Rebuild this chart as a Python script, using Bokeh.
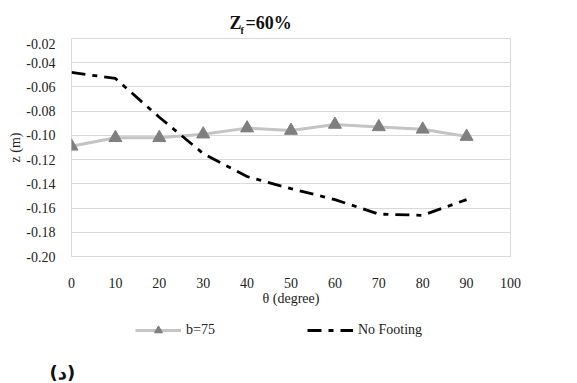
from bokeh.plotting import figure
from bokeh.layouts import column
from bokeh.models import (FixedTicker, NumeralTickFormatter, Label, Legend, LegendItem,
                          Range1d)
from bokeh.embed import file_html
from bokeh.resources import INLINE

# data
theta = [0, 10, 20, 30, 40, 50, 60, 70, 80, 90]
b75 = [-0.109, -0.102, -0.102, -0.099, -0.094, -0.096, -0.091, -0.093, -0.095, -0.101]
no_footing = [-0.048, -0.053, -0.085, -0.115, -0.134, -0.144, -0.153, -0.165, -0.166, -0.153]
x_ticks = [0, 10, 20, 30, 40, 50, 60, 70, 80, 90, 100]
y_ticks = [-0.20, -0.18, -0.16, -0.14, -0.12, -0.10, -0.08, -0.06, -0.04, -0.02]

SERIF = "Liberation Serif"
B75_LINE = dict(line_color="#c4c4c4", line_width=3)
B75_MARK = dict(marker="triangle", size=13, fill_color="#7f7f7f", line_color="#7f7f7f")
NF_LINE = dict(line_color="black", line_width=2.8, line_dash="14 7 5 7")


def bare(height):
    f = figure(width=577, height=height, output_backend="svg", toolbar_location=None,
               x_axis_type=None, y_axis_type=None, x_range=Range1d(1000, 1100),
               y_range=Range1d(1000, 1100), min_border=0)
    f.outline_line_color = None
    f.background_fill_color = "white"
    f.border_fill_color = "white"
    return f


# ---- title strip ----
t = bare(38)
t.add_layout(Label(x=158, y=6, x_units="screen", y_units="screen", text="Z",
                   text_font=SERIF, text_font_size="18px", text_font_style="bold",
                   text_color="#111111"))
t.add_layout(Label(x=169, y=3, x_units="screen", y_units="screen", text="f",
                   text_font=SERIF, text_font_size="10px", text_font_style="bold",
                   text_color="#111111"))
t.add_layout(Label(x=174, y=6, x_units="screen", y_units="screen", text="=60%",
                   text_font=SERIF, text_font_size="18px", text_font_style="bold",
                   text_color="#111111"))

# ---- main chart ----
p = figure(width=577, height=270, output_backend="svg", toolbar_location=None,
           x_range=Range1d(0, 100), y_range=Range1d(-0.20, -0.02),
           min_border_left=71, min_border_right=67, min_border_top=0, min_border_bottom=48)
p.background_fill_color = "white"
p.border_fill_color = "white"
p.outline_line_color = "#d9d9d9"
p.outline_line_width = 1

p.xgrid.grid_line_color = None
p.ygrid.grid_line_color = "#d9d9d9"
p.ygrid.grid_line_width = 1
p.ygrid.ticker = FixedTicker(ticks=y_ticks)

for ax in (p.xaxis, p.yaxis):
    ax.axis_line_color = None
    ax.major_tick_line_color = None
    ax.minor_tick_line_color = None
    ax.major_label_text_font = SERIF
    ax.major_label_text_font_size = "14px"
    ax.major_label_text_color = "#222222"
    ax.axis_label_text_font = SERIF
    ax.axis_label_text_font_size = "14px"
    ax.axis_label_text_font_style = "normal"
    ax.axis_label_text_color = "#222222"

p.xaxis.ticker = FixedTicker(ticks=x_ticks)
p.xaxis.major_label_standoff = 15
p.xaxis.axis_label = "θ (degree)"
p.xaxis.axis_label_standoff = 0
p.yaxis.ticker = FixedTicker(ticks=y_ticks)
p.yaxis.formatter = NumeralTickFormatter(format="0.00")
p.yaxis.major_label_standoff = 10
p.yaxis.axis_label = "z (m)"
p.yaxis.axis_label_standoff = 0

p.line(theta, b75, **B75_LINE)
p.scatter(theta, b75, **B75_MARK)
p.line(theta, no_footing, **NF_LINE)

# ---- legend strip ----
lg = bare(75)
dx = 0
try:
    lg.frame_align = False
except Exception:
    dx = -71

l1 = lg.line(theta, b75, **B75_LINE)
l1m = lg.scatter(theta, b75, **B75_MARK)
l2 = lg.line(theta, no_footing, **NF_LINE)
legend = Legend(items=[LegendItem(label="b=75", renderers=[l1, l1m]),
                       LegendItem(label="No Footing", renderers=[l2])],
                orientation="horizontal", location=(135 + dx, 43),
                label_text_font=SERIF, label_text_font_size="14px",
                label_text_color="#222222", glyph_width=46, glyph_height=20,
                label_standoff=5, spacing=92, border_line_color=None,
                background_fill_alpha=0, padding=0, margin=0)
lg.add_layout(legend, "center")
lg.add_layout(Label(x=max(49 + dx, 0), y=1, x_units="screen", y_units="screen",
                    text="(\u062f)", text_font="DejaVu Sans", text_font_size="18px",
                    text_font_style="bold", text_color="#111111"))

layout = column(t, p, lg, spacing=0)
open("out.html", "w").write(file_html(layout, INLINE))
